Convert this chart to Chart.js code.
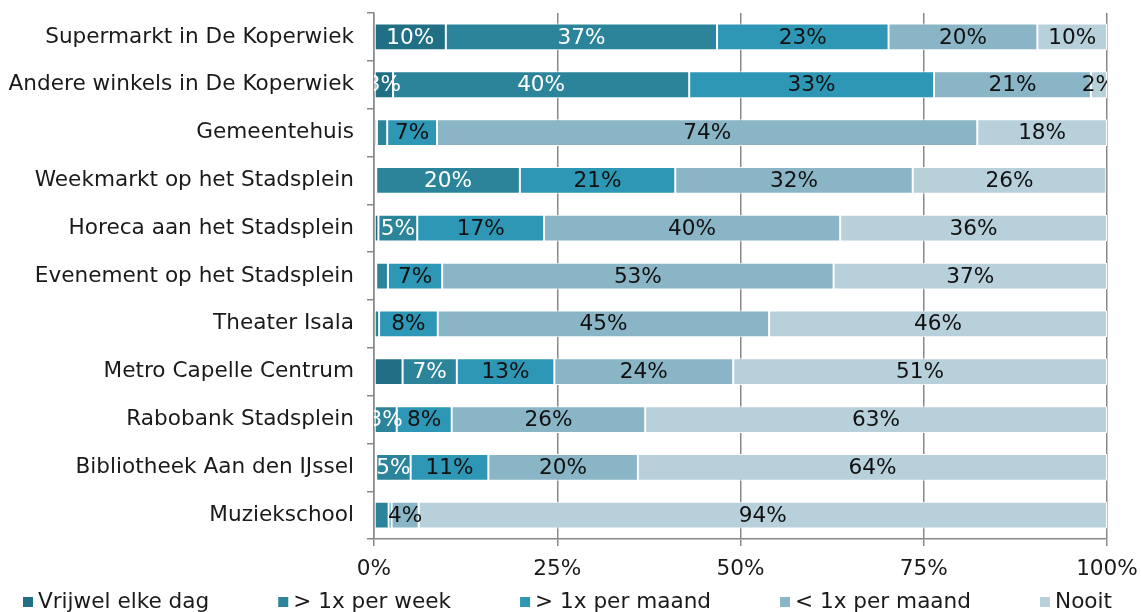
<!DOCTYPE html>
<html lang="nl">
<head>
<meta charset="utf-8">
<script src="https://cdn.jsdelivr.net/npm/chart.js/dist/chart.umd.min.js"></script>
<style>
    html, body { margin: 0; padding: 0; background: #fff; }
    #wrap { width: 1141px; height: 612px; }
</style>
</head>
<body>
<div id="wrap"><canvas id="chart"></canvas></div>
<script>
    const categories = [
        'Supermarkt in De Koperwiek',
        'Andere winkels in De Koperwiek',
        'Gemeentehuis',
        'Weekmarkt op het Stadsplein',
        'Horeca aan het Stadsplein',
        'Evenement op het Stadsplein',
        'Theater Isala',
        'Metro Capelle Centrum',
        'Rabobank Stadsplein',
        'Bibliotheek Aan den IJssel',
        'Muziekschool'
    ];
    const seriesLabels = ['Vrijwel elke dag', '> 1x per week', '> 1x per maand', '< 1x per maand', 'Nooit'];

    // percentages per rij, in volgorde van categories
    const vrijwelElkeDag = [9.8, 2.6, 0.4, 0.3, 0.6, 0.3, 0, 3.9, 0, 0.3, 0];
    const perWeek = [37.0, 40.4, 1.4, 19.6, 5.3, 1.6, 0.7, 7.4, 3.1, 4.7, 2.0];
    const perMaand = [23.4, 33.4, 6.8, 21.2, 17.3, 7.4, 8.0, 13.3, 7.5, 10.6, 0.4];
    const minderDanMaand = [20.3, 21.4, 73.7, 32.4, 40.4, 53.4, 45.2, 24.4, 26.4, 20.4, 3.7];
    const nooit = [9.5, 2.2, 17.7, 26.4, 36.4, 37.3, 46.1, 51.0, 63.0, 64.0, 93.9];

    const xTicks = [0, 25, 50, 75, 100];
    const minLabelValue = 2.1;
    const hiddenLabels = [[7, 0]]; // [rij, reeks] zonder label

    const seriesColors = ['#216f84', '#2b8499', '#2e97b5', '#89b5c6', '#b7d0da'];
    const labelColors = ['#fff', '#fff', '#111', '#111', '#111'];
    const font = '"DejaVu Sans", Verdana, sans-serif';
    const fontSize = 21.6;

    Chart.defaults.font.family = font;
    Chart.defaults.font.size = fontSize;
    Chart.defaults.color = '#1a1a1a';

    const barLabels = {
        id: 'barLabels',
        afterDatasetsDraw(chart) {
            const ctx = chart.ctx;
            const area = chart.chartArea;
            ctx.save();
            ctx.beginPath();
            ctx.rect(area.left, area.top, area.right - area.left, area.bottom - area.top);
            ctx.clip();
            ctx.font = fontSize + 'px ' + font;
            ctx.textAlign = 'center';
            ctx.textBaseline = 'middle';
            chart.data.datasets.forEach(function(ds, d) {
                chart.getDatasetMeta(d).data.forEach(function(bar, i) {
                    const v = ds.data[i];
                    if (v < minLabelValue) return;
                    if (hiddenLabels.some(function(h) { return h[0] === i && h[1] === d; })) return;
                    const c = bar.getCenterPoint();
                    ctx.fillStyle = labelColors[d];
                    ctx.fillText(Math.round(v) + '%', c.x, c.y + 1);
                });
            });
            ctx.restore();
        }
    };

    // legenda onderaan, eigen tekening zodat de afstanden kloppen
    const bottomLegend = {
        id: 'bottomLegend',
        afterDraw(chart) {
            const ctx = chart.ctx;
            ctx.save();
            ctx.font = fontSize + 'px ' + font;
            ctx.textBaseline = 'middle';
            const gap = 69;
            const widths = chart.data.datasets.map(function(ds) { return 15 + ctx.measureText(ds.label).width; });
            const total = widths.reduce(function(a, b) { return a + b; }, 0) + gap * (widths.length - 1);
            let x = (chart.width - total) / 2 - 3;
            const y = chart.height - 10;
            chart.data.datasets.forEach(function(ds, i) {
                ctx.fillStyle = ds.backgroundColor;
                ctx.fillRect(x, y - 5, 10, 10);
                ctx.fillStyle = '#1a1a1a';
                ctx.fillText(ds.label, x + 15, y);
                x += widths[i] + gap;
            });
            ctx.restore();
        }
    };

    const seriesData = [vrijwelElkeDag, perWeek, perMaand, minderDanMaand, nooit];

    const chart = new Chart(document.getElementById('chart'), {
        type: 'bar',
        data: {
            labels: categories,
            datasets: seriesLabels.map(function(label, i) {
                return {
                    label: label,
                    data: seriesData[i],
                    backgroundColor: seriesColors[i],
                    borderColor: '#fff',
                    borderWidth: 1,
                    borderSkipped: false,
                    barPercentage: 0.56,
                    categoryPercentage: 1
                };
            })
        },
        options: {
            indexAxis: 'y',
            responsive: true,
            maintainAspectRatio: false,
            animation: false,
            layout: { padding: { top: 13, right: 34, bottom: 20, left: 0 } },
            plugins: {
                legend: { display: false },
                tooltip: { enabled: false }
            },
            scales: {
                x: {
                    stacked: true,
                    min: 0,
                    max: 100,
                    afterBuildTicks: function(scale) {
                        scale.ticks = xTicks.map(function(v) { return {value: v}; });
                    },
                    ticks: {
                        padding: 10,
                        maxRotation: 0,
                        callback: function(v) { return v + '%'; }
                    },
                    grid: { color: '#888', lineWidth: 1.5, tickLength: 7 },
                    border: { color: '#888', width: 1.5 },
                    afterFit: function(scale) { scale.paddingRight = 0; scale.paddingLeft = 0; }
                },
                y: {
                    stacked: true,
                    ticks: { padding: 13 },
                    grid: { offset: true, drawOnChartArea: false, color: '#888', lineWidth: 1.5, tickLength: 7 },
                    border: { color: '#888', width: 1.5 },
                    afterFit: function(scale) {
                        scale.width = 374;
                        scale.paddingTop = 0;
                        scale.paddingBottom = 0;
                    }
                }
            }
        },
        plugins: [barLabels, bottomLegend]
    });
</script>
</body>
</html>
